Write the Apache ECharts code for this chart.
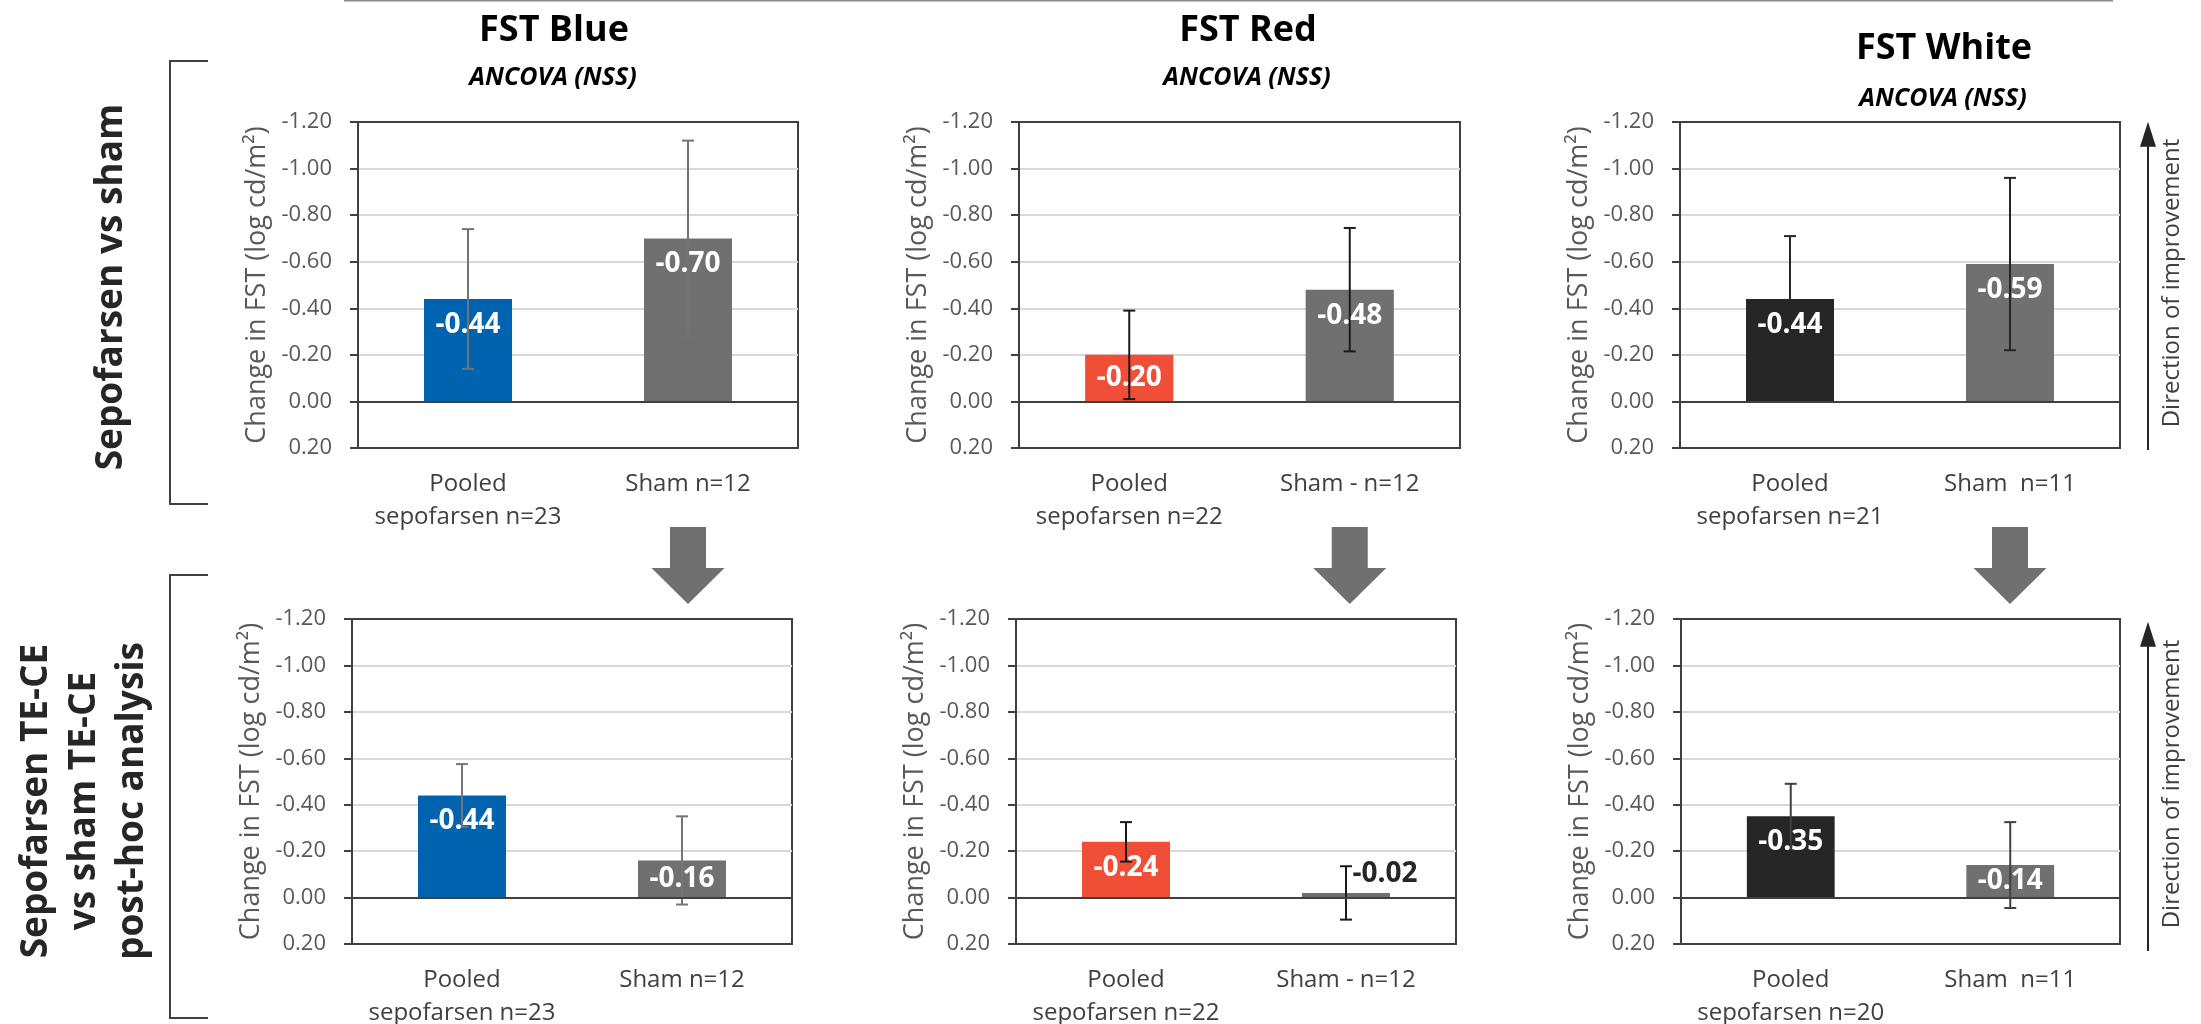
<!DOCTYPE html>
<html>
<head>
<meta charset="utf-8">
<script src="https://cdn.jsdelivr.net/npm/echarts@6/dist/echarts.min.js"></script>
<style>
  html, body { margin: 0; padding: 0; background: #ffffff; }
  #chart { width: 2201px; height: 1024px; }
</style>
</head>
<body>
<div id="chart"></div>
<script>
// ---------------- DATA ----------------
const panelTitles = ['FST Blue', 'FST Red', 'FST White'];
const panelSubtitle = 'ANCOVA (NSS)';
const rowLabels = ['Sepofarsen vs sham', 'Sepofarsen TE-CE\nvs sham TE-CE\npost-hoc analysis'];
const directionLabel = 'Direction of improvement';
const yAxisTitle = 'Change in FST (log cd/m\u00B2)';
const yTickMin = -1.2;
const yTickMax = 0.2;
const yTickStep = 0.2;

const topBlueCategories  = ['Pooled\nsepofarsen n=23', 'Sham n=12'];
const topRedCategories   = ['Pooled\nsepofarsen n=22', 'Sham - n=12'];
const topWhiteCategories = ['Pooled\nsepofarsen n=21', 'Sham  n=11'];
const botBlueCategories  = ['Pooled\nsepofarsen n=23', 'Sham n=12'];
const botRedCategories   = ['Pooled\nsepofarsen n=22', 'Sham - n=12'];
const botWhiteCategories = ['Pooled\nsepofarsen n=20', 'Sham  n=11'];

const topBlueValues  = [-0.44, -0.70];
const topBlueErrors  = [0.30, 0.42];
const topRedValues   = [-0.20, -0.48];
const topRedErrors   = [0.19, 0.265];
const topWhiteValues = [-0.44, -0.59];
const topWhiteErrors = [0.27, 0.37];
const botBlueValues  = [-0.44, -0.16];
const botBlueErrors  = [0.135, 0.19];
const botRedValues   = [-0.24, -0.02];
const botRedErrors   = [0.085, 0.115];
const botWhiteValues = [-0.35, -0.14];
const botWhiteErrors = [0.14, 0.185];

// ---------------- STYLE / LAYOUT ----------------
const FONT = "'Open Sans', sans-serif";
const BLUE = '#0063AF', RED = '#F04E37', BLACK = '#262626', GRAY = '#707070';
const AXIS_DARK = '#404040';

const panels = [
  { values: topBlueValues,  errors: topBlueErrors,  cats: topBlueCategories,  colors: [BLUE, GRAY],  errColor: '#737373', grid: { left: 358,  top: 122, width: 440, height: 326 } },
  { values: topRedValues,   errors: topRedErrors,   cats: topRedCategories,   colors: [RED, GRAY],   errColor: '#1a1a1a', grid: { left: 1019, top: 122, width: 441, height: 326 } },
  { values: topWhiteValues, errors: topWhiteErrors, cats: topWhiteCategories, colors: [BLACK, GRAY], errColor: '#262626', grid: { left: 1680, top: 122, width: 440, height: 326 } },
  { values: botBlueValues,  errors: botBlueErrors,  cats: botBlueCategories,  colors: [BLUE, GRAY],  errColor: '#767676', grid: { left: 352,  top: 619, width: 440, height: 325 } },
  { values: botRedValues,   errors: botRedErrors,   cats: botRedCategories,   colors: [RED, GRAY],   errColor: '#1a1a1a', grid: { left: 1016, top: 619, width: 440, height: 325 } },
  { values: botWhiteValues, errors: botWhiteErrors, cats: botWhiteCategories, colors: [BLACK, GRAY], errColor: '#404040', grid: { left: 1681, top: 619, width: 439, height: 325 } }
];

function fmt2(v) {
  if (Math.abs(v) < 1e-9) v = 0;
  return v.toFixed(2);
}

function labelFor(v) {
  const a = Math.abs(v);
  const base = { show: true, fontFamily: FONT, fontSize: 28, fontWeight: 'bold', color: '#ffffff',
                 formatter: p => fmt2(p.value) };
  if (a < 0.05) {
    return Object.assign(base, { position: 'top', distance: 5, offset: [39, 0], color: '#262626' });
  }
  if (a <= 0.2) {
    return Object.assign(base, { position: 'inside' });
  }
  return Object.assign(base, { position: 'insideTop', distance: 12 });
}

const grids = [], xAxes = [], yAxes = [], series = [];
panels.forEach((p, i) => {
  grids.push(Object.assign({
    show: true, borderColor: AXIS_DARK, borderWidth: 2, backgroundColor: 'transparent',
    containLabel: false, outerBoundsMode: 'none'
  }, p.grid));

  xAxes.push({
    type: 'category', gridIndex: i, data: p.cats, position: 'bottom',
    axisLine: { show: true, onZero: false, lineStyle: { color: AXIS_DARK, width: 2 } },
    axisTick: { show: false },
    splitLine: { show: false },
    axisLabel: { show: true, interval: 0, margin: 20, fontFamily: FONT, fontSize: 24, lineHeight: 33, color: '#404040' }
  });

  yAxes.push({
    type: 'value', gridIndex: i, inverse: true,
    min: yTickMin, max: yTickMax, interval: yTickStep,
    axisLine: { show: true, lineStyle: { color: AXIS_DARK, width: 2 } },
    axisTick: { show: true, length: 8, lineStyle: { color: AXIS_DARK, width: 2 } },
    axisLabel: { show: true, margin: 26, fontFamily: FONT, fontSize: 22, color: '#595959', formatter: fmt2 },
    splitLine: { show: true, showMinLine: false, showMaxLine: false, lineStyle: { color: '#d9d9d9', width: 2 } },
    name: yAxisTitle, nameLocation: 'middle', nameGap: 87, nameRotate: 90,
    nameTextStyle: { fontFamily: FONT, fontSize: 27, color: '#595959' }
  });

  series.push({
    type: 'bar', xAxisIndex: i, yAxisIndex: i, barWidth: '40%', barGap: '-100%', z: 2,
    data: p.values.map((v, j) => ({ value: v, itemStyle: { color: p.colors[j] } })),
    label: { show: false },
    markLine: {
      silent: true, symbol: ['none', 'none'], label: { show: false },
      lineStyle: { color: AXIS_DARK, width: 2, type: 'solid' },
      emphasis: { disabled: true },
      data: [{ yAxis: 0 }]
    }
  });

  const errColor = p.errColor;
  series.push({
    type: 'custom', xAxisIndex: i, yAxisIndex: i, z: 3,
    data: p.values.map((v, j) => [j, v, p.errors[j]]),
    renderItem: (params, api) => {
      const x = api.value(0), v = api.value(1), e = api.value(2);
      const a = api.coord([x, v - e]);
      const b = api.coord([x, v + e]);
      const c = 6;
      const st = { stroke: errColor, lineWidth: 2 };
      return {
        type: 'group',
        children: [
          { type: 'line', shape: { x1: a[0], y1: a[1], x2: b[0], y2: b[1] }, style: st },
          { type: 'line', shape: { x1: a[0] - c, y1: a[1], x2: a[0] + c, y2: a[1] }, style: st },
          { type: 'line', shape: { x1: b[0] - c, y1: b[1], x2: b[0] + c, y2: b[1] }, style: st }
        ]
      };
    }
  });

  series.push({
    type: 'bar', xAxisIndex: i, yAxisIndex: i, barWidth: '40%', barGap: '-100%', z: 4,
    itemStyle: { color: 'rgba(0,0,0,0)' },
    data: p.values.map(v => ({ value: v, label: labelFor(v) }))
  });
});

// ---------------- DECORATIONS ----------------
function txt(text, x, y, size, opts) {
  return {
    type: 'text', x: x, y: y, rotation: (opts && opts.rotation) || 0, silent: true,
    style: Object.assign({
      text: text, fontFamily: FONT, fontSize: size, fill: '#000000',
      align: 'center', verticalAlign: 'middle'
    }, (opts && opts.style) || {})
  };
}

const titlePos = [[554, 31], [1248, 31], [1944, 49]];
const subPos = [[553, 78], [1247, 78], [1943, 99]];

const graphics = [];
graphics.push({ type: 'line', silent: true, shape: { x1: 344, y1: 0.75, x2: 2113, y2: 0.75 }, style: { stroke: '#8c8c8c', lineWidth: 1.5 } });
panelTitles.forEach((t, k) => {
  graphics.push(txt(t, titlePos[k][0], titlePos[k][1], 36, { style: { fontWeight: 'bold' } }));
  graphics.push(txt(panelSubtitle, subPos[k][0], subPos[k][1], 25, { style: { fontWeight: 'bold', fontStyle: 'italic' } }));
});

// row labels
graphics.push(txt(rowLabels[0], 111, 287, 37, { rotation: Math.PI / 2, style: { fontWeight: 'bold', fill: '#262626' } }));
graphics.push(txt(rowLabels[1], 84, 801, 37, { rotation: Math.PI / 2, style: { fontWeight: 'bold', fill: '#262626', lineHeight: 48 } }));

// brackets
[[61, 504], [575, 1018]].forEach(b => {
  graphics.push({ type: 'polyline', silent: true,
    shape: { points: [[208, b[0]], [170, b[0]], [170, b[1]], [208, b[1]]] },
    style: { stroke: '#404040', lineWidth: 2, fill: null } });
});

// direction-of-improvement arrows
[[121.7, 450, 283], [621.7, 951, 784]].forEach(d => {
  const ax = 2148;
  graphics.push({ type: 'line', silent: true, shape: { x1: ax, y1: d[1], x2: ax, y2: d[0] + 20 }, style: { stroke: '#262626', lineWidth: 2 } });
  graphics.push({ type: 'polygon', silent: true, shape: { points: [[ax, d[0]], [ax - 8, d[0] + 25], [ax + 8, d[0] + 25]] }, style: { fill: '#262626' } });
  graphics.push(txt(directionLabel, 2172, d[2], 24, { rotation: Math.PI / 2, style: { fill: '#404040' } }));
});

const chart = echarts.init(document.getElementById('chart'), null, { renderer: 'canvas' });
chart.setOption({
  animation: false,
  backgroundColor: '#ffffff',
  grid: grids,
  xAxis: xAxes,
  yAxis: yAxes,
  series: series,
  graphic: graphics
});

// big gray down arrows centered on the "Sham" category of the top panels
const arrowGraphics = [];
[0, 1, 2].forEach(i => {
  const cx = chart.convertToPixel({ xAxisIndex: i }, panels[i].cats[1]);
  const top = 527, base = 568, tip = 604, sw = 18, hw = 36.5;
  arrowGraphics.push({ type: 'polygon', silent: true,
    shape: { points: [[cx - sw, top], [cx + sw, top], [cx + sw, base], [cx + hw, base], [cx, tip], [cx - hw, base], [cx - sw, base]] },
    style: { fill: '#707070' } });
});
chart.setOption({ graphic: graphics.concat(arrowGraphics) });
</script>
</body>
</html>
